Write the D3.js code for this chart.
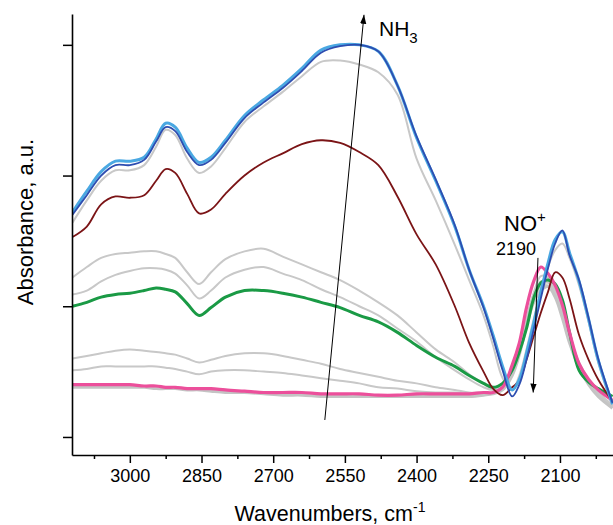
<!DOCTYPE html>
<html><head><meta charset="utf-8">
<script src="https://cdn.jsdelivr.net/npm/d3@7"></script>
<style>html,body{margin:0;padding:0;background:#fff;}svg{display:block;font-family:"Liberation Sans",Arial,sans-serif;}</style>
</head><body>
<svg id="chart" width="613" height="525"></svg>
<script>
// Wavenumber grid (cm-1)
const wavenumbers = [3120,3090,3060,3030,3000,2970,2945,2925,2905,2880,2855,2830,2800,2760,2720,2680,2640,2600,2560,2520,2480,2440,2400,2360,2320,2290,2260,2240,2220,2200,2185,2170,2155,2140,2125,2110,2095,2080,2060,2040,2020,1990];

// Absorbance spectra (a.u.)
const grayBase = [0.38,0.38,0.38,0.38,0.38,0.38,0.37,0.37,0.37,0.36,0.36,0.35,0.34,0.34,0.33,0.32,0.32,0.31,0.31,0.31,0.31,0.31,0.31,0.31,0.31,0.31,0.32,0.33,0.36,0.47,0.63,0.85,1.03,1.12,1.15,1.07,0.91,0.72,0.53,0.40,0.31,0.22];
const grayA = [0.51,0.52,0.54,0.54,0.54,0.54,0.54,0.53,0.52,0.50,0.48,0.50,0.51,0.51,0.50,0.49,0.47,0.45,0.43,0.41,0.38,0.37,0.35,0.34,0.34,0.33,0.33,0.34,0.37,0.50,0.65,0.86,1.05,1.15,1.16,1.09,0.93,0.74,0.54,0.41,0.33,0.23];
const grayB = [0.60,0.62,0.64,0.66,0.67,0.66,0.65,0.64,0.63,0.60,0.57,0.59,0.62,0.64,0.64,0.62,0.59,0.56,0.52,0.49,0.46,0.43,0.41,0.38,0.36,0.34,0.34,0.34,0.39,0.51,0.67,0.88,1.06,1.16,1.18,1.10,0.94,0.74,0.54,0.42,0.34,0.24];
const grayD = [1.09,1.12,1.19,1.24,1.27,1.29,1.29,1.28,1.25,1.16,1.06,1.12,1.22,1.28,1.30,1.25,1.20,1.13,1.07,1.00,0.93,0.83,0.73,0.61,0.51,0.44,0.38,0.36,0.39,0.50,0.67,0.90,1.09,1.19,1.19,1.11,0.95,0.76,0.56,0.43,0.34,0.24];
const grayC = [1.22,1.30,1.37,1.40,1.41,1.42,1.42,1.40,1.37,1.26,1.17,1.26,1.36,1.42,1.44,1.38,1.32,1.26,1.20,1.12,1.03,0.93,0.80,0.67,0.57,0.48,0.41,0.37,0.40,0.51,0.67,0.91,1.10,1.23,1.22,1.12,0.97,0.78,0.57,0.44,0.34,0.24];
const grayTop = [1.64,1.81,1.96,2.04,2.04,2.08,2.22,2.35,2.31,2.13,2.02,2.07,2.21,2.41,2.53,2.64,2.76,2.87,2.88,2.85,2.79,2.62,2.13,1.81,1.47,1.20,0.93,0.70,0.45,0.36,0.47,0.67,0.90,1.11,1.30,1.43,1.48,1.37,1.16,0.88,0.57,0.24];
const pink = [0.40,0.40,0.40,0.40,0.40,0.39,0.39,0.38,0.38,0.37,0.37,0.37,0.36,0.35,0.34,0.34,0.34,0.33,0.33,0.33,0.32,0.32,0.33,0.33,0.33,0.33,0.34,0.34,0.38,0.55,0.72,0.99,1.19,1.30,1.25,1.16,1.01,0.80,0.56,0.44,0.36,0.28];
const green = [1.00,1.03,1.07,1.09,1.10,1.12,1.14,1.13,1.11,1.02,0.93,0.99,1.07,1.12,1.12,1.10,1.07,1.03,0.99,0.93,0.88,0.80,0.70,0.61,0.54,0.47,0.41,0.38,0.41,0.51,0.65,0.83,1.06,1.18,1.20,1.17,1.05,0.80,0.51,0.42,0.37,0.31];
const maroon = [1.53,1.61,1.78,1.84,1.83,1.85,1.96,2.05,2.02,1.86,1.71,1.74,1.86,2.00,2.10,2.17,2.24,2.27,2.25,2.18,2.08,1.84,1.55,1.32,1.00,0.72,0.50,0.37,0.32,0.38,0.43,0.59,0.77,0.95,1.11,1.26,1.22,1.06,0.78,0.59,0.44,0.27];
const lightBlue = [1.72,1.88,2.03,2.11,2.11,2.14,2.28,2.40,2.37,2.21,2.10,2.14,2.27,2.46,2.58,2.69,2.82,2.96,3.00,3.00,2.95,2.69,2.29,1.96,1.61,1.28,1.00,0.78,0.54,0.36,0.44,0.64,0.87,1.11,1.33,1.51,1.57,1.41,1.19,0.90,0.59,0.25];
const darkBlue = [1.70,1.85,2.00,2.08,2.08,2.12,2.26,2.37,2.34,2.18,2.08,2.12,2.25,2.44,2.56,2.67,2.80,2.94,2.99,3.00,2.95,2.69,2.30,1.97,1.62,1.28,0.99,0.76,0.51,0.31,0.40,0.59,0.82,1.06,1.29,1.48,1.58,1.39,1.20,0.91,0.60,0.26];

// Axis ticks
const xMajorTicks = [3000,2850,2700,2550,2400,2250,2100];
const xMinorTicks = [3075,2925,2775,2625,2475,2325,2175,2025];
const yTicks = [0,1,2,3];

// Annotations (data coordinates)
const nh3Arrow = [[2592,0.13],[2510,3.23]];
const noArrow = [[2146,1.37],[2156,0.34]];

const svg = d3.select("#chart");
const M = {left:72, right:613, top:14, bottom:455};
const x = d3.scaleLinear().domain([3121,1989]).range([M.left, M.right]);
const y = d3.scaleLinear().domain([-0.138,3.236]).range([M.bottom, M.top]);

svg.append("defs").append("clipPath").attr("id","clip")
  .append("rect").attr("x",M.left).attr("y",0).attr("width",M.right-M.left).attr("height",M.bottom);
svg.append("defs").append("marker").attr("id","ah").attr("viewBox","0 0 10 10")
  .attr("refX",10).attr("refY",5).attr("markerWidth",9).attr("markerHeight",9)
  .attr("markerUnits","userSpaceOnUse").attr("orient","auto")
  .append("path").attr("d","M0,1.5 L10,5 L0,8.5 Z").attr("fill","#000");

const line = d3.line().x((d,i)=>x(wavenumbers[i])).y(d=>y(d)).curve(d3.curveCatmullRom.alpha(0.5));
const series = [
  {v:grayA, c:"#c8c8c8", w:2},
  {v:grayB, c:"#c8c8c8", w:2},
  {v:grayD, c:"#c8c8c8", w:2},
  {v:grayC, c:"#c8c8c8", w:2},
  {v:grayTop, c:"#c8c8c8", w:2},
  {v:grayBase, c:"#c4c4c4", w:3},
  {v:green, c:"#1a9a45", w:3},
  {v:pink, c:"#ec4f9b", w:3.2},
  {v:maroon, c:"#7b1416", w:1.8},
  {v:lightBlue, c:"#4aa8e2", w:3},
  {v:darkBlue, c:"#2d4db0", w:1.8}
];
const g = svg.append("g").attr("clip-path","url(#clip)");
g.selectAll("path.s").data(series).enter().append("path").attr("class","s")
  .attr("d",d=>line(d.v)).attr("fill","none").attr("stroke",d=>d.c).attr("stroke-width",d=>d.w)
  .attr("stroke-linejoin","round");

// Axes
const xAxis = svg.append("g").attr("transform",`translate(0,${M.bottom})`)
  .call(d3.axisBottom(x).tickValues(xMajorTicks).tickFormat(d3.format("d")).tickSize(8).tickSizeOuter(0).tickPadding(6));
xAxis.selectAll("text").attr("font-size",18).attr("font-family","Liberation Sans, Arial, sans-serif").attr("fill","#000");
svg.append("g").attr("transform",`translate(0,${M.bottom})`)
  .call(d3.axisBottom(x).tickValues(xMinorTicks).tickSize(4).tickFormat("")).select(".domain").remove();
svg.append("g").attr("transform",`translate(${M.left},0)`)
  .call(d3.axisLeft(y).tickValues(yTicks).tickSize(9).tickSizeOuter(0).tickFormat(""));
svg.selectAll(".domain").attr("stroke","#000").attr("stroke-width",1.6);
svg.selectAll(".tick line").attr("stroke","#000").attr("stroke-width",1.5);

// Axis titles
const xt = svg.append("text").attr("x",330).attr("y",521).attr("text-anchor","middle").attr("font-size",21.5).attr("fill","#000");
xt.append("tspan").text("Wavenumbers, cm");
xt.append("tspan").attr("dy",-9).attr("font-size",14).text("-1");
svg.append("text").attr("transform","translate(33,222) rotate(-90)").attr("text-anchor","middle")
  .attr("font-size",22).attr("fill","#000").text("Absorbance, a.u.");

// Annotations
const al = d3.line().x(d=>x(d[0])).y(d=>y(d[1]));
svg.append("path").attr("d",al(nh3Arrow)).attr("stroke","#000").attr("stroke-width",1).attr("fill","none").attr("marker-end","url(#ah)");
svg.append("path").attr("d",al(noArrow)).attr("stroke","#000").attr("stroke-width",1).attr("fill","none").attr("marker-end","url(#ah)");
const t1 = svg.append("text").attr("x",379).attr("y",36).attr("font-size",21).attr("fill","#000");
t1.append("tspan").text("NH");
t1.append("tspan").attr("dy",7).attr("font-size",15).text("3");
const t2 = svg.append("text").attr("x",504).attr("y",231).attr("font-size",22).attr("fill","#000");
t2.append("tspan").text("NO");
t2.append("tspan").attr("dy",-9).attr("font-size",15).text("+");
svg.append("text").attr("x",496).attr("y",255).attr("font-size",18).attr("fill","#000").text("2190");
</script>
</body></html>
